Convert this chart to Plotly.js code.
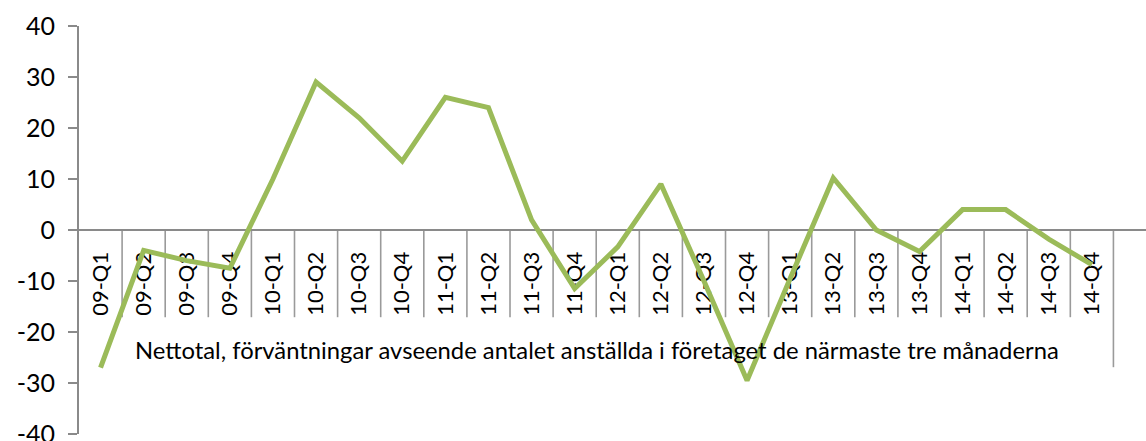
<!DOCTYPE html>
<html>
<head>
<meta charset="utf-8">
<script src="https://cdn.plot.ly/plotly-3.0.1.min.js"></script>
<style>html,body{margin:0;padding:0;background:#fff;}#chart{width:1146px;height:441px;}</style>
</head>
<body>
<div id="chart"></div>
<script>
const categories = ["09-Q1","09-Q2","09-Q3","09-Q4","10-Q1","10-Q2","10-Q3","10-Q4","11-Q1","11-Q2","11-Q3","11-Q4","12-Q1","12-Q2","12-Q3","12-Q4","13-Q1","13-Q2","13-Q3","13-Q4","14-Q1","14-Q2","14-Q3","14-Q4"];
const netValues = [-27, -4, -6, -7.5, 10, 29, 22, 13.5, 26, 24, 2, -11.5, -3.3, 9, -10, -29.5, -9.5, 10.2, 0, -4.2, 4, 4, -1.8, -6.8];
const yTicks = [-40, -30, -20, -10, 0, 10, 20, 30, 40];
const noteText = "Nettotal, förväntningar avseende antalet anställda i företaget de närmaste tre månaderna";

const gray = "#8a8a8a";
const fontFam = "Lato, 'Open Sans', sans-serif";

const shapes = [];
for (let i = 0; i < categories.length; i++) {
  const last = i === categories.length - 1;
  shapes.push({
    type: "line", xref: "x", yref: "y", layer: "below",
    x0: i + 0.5, x1: i + 0.5, y0: 0, y1: last ? -26.9 : -17.1,
    line: {color: "#9a9a9a", width: 1.6}
  });
}

const trace = {
  x: categories, y: netValues, type: "scatter", mode: "lines",
  line: {color: "#9BBB59", width: 5}, hoverinfo: "skip"
};

const layout = {
  width: 1146, height: 441,
  margin: {l: 79, r: 0, t: 26, b: 7, pad: 0},
  paper_bgcolor: "#fff", plot_bgcolor: "#fff",
  showlegend: false,
  font: {family: fontFam, size: 24, color: "#000"},
  xaxis: {
    type: "category", range: [-0.5, 24.256],
    anchor: "free", position: 0.5,
    showline: true, linecolor: gray, linewidth: 2,
    ticks: "", tickangle: -90, ticklabelstandoff: 12,
    tickfont: {family: fontFam, size: 22, color: "#000"},
    showgrid: false, zeroline: false, layer: "below traces"
  },
  yaxis: {
    range: [-40, 40], tickvals: yTicks, ticktext: yTicks.map(String),
    showline: true, linecolor: gray, linewidth: 2,
    ticks: "outside", ticklen: 9, tickwidth: 2, tickcolor: gray,
    ticklabelstandoff: 8, ticklabeloverflow: "allow",
    tickfont: {family: fontFam, size: 25, color: "#000"},
    showgrid: false, zeroline: false, layer: "below traces"
  },
  shapes: shapes,
  annotations: [{
    text: noteText, xref: "paper", yref: "paper",
    x: (133 - 79) / 1067, y: 0.205, xanchor: "left", yanchor: "middle",
    showarrow: false, font: {family: fontFam, size: 23.8, color: "#000"}
  }]
};

Plotly.newPlot("chart", [trace], layout, {displayModeBar: false, staticPlot: true});
</script>
</body>
</html>
